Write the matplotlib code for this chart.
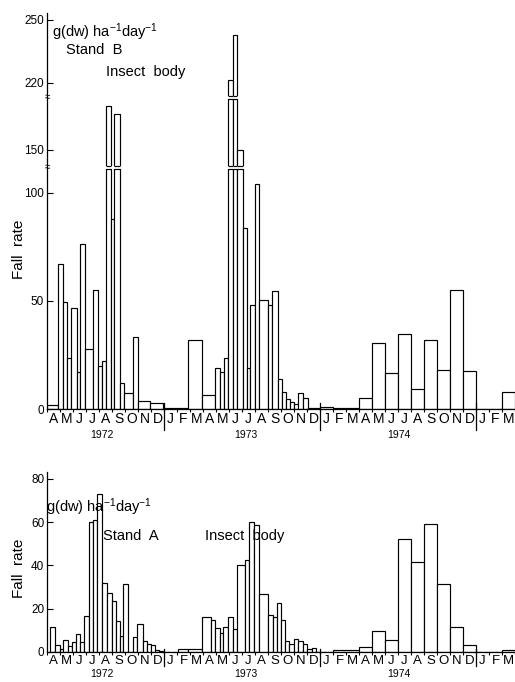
import numpy as np
import matplotlib
matplotlib.use('Agg')
import matplotlib.pyplot as plt

W, H = 515, 682

# months from 1 Apr 1972 (0) to end of Mar 1975 (36)
months = list('AMJJASONDJFM') * 3
years = ['1972', '1973', '1974']
year_pos = [4.2, 15.3, 27.1]
year_breaks = [9, 21, 33]

# Stand B: sampling period edges (months) and fall rate g(dw)/ha/day
b_edges = [0, 0.87, 1.23, 1.54, 1.88, 2.28, 2.54, 2.95, 3.54, 3.92, 4.23,
           4.54, 4.96, 5.19, 5.62, 5.95, 6.59, 6.98, 7.92, 8.95, 9.98,
           10.87, 11.95, 12.92, 13.31, 13.62, 13.95, 14.31, 14.62, 15.04,
           15.36, 15.62, 16.0, 16.33, 17.02, 17.28, 17.75, 18.05, 18.36,
           18.69, 19.0, 19.33, 19.67, 20.05, 21, 22, 23, 24, 25, 26, 27,
           28, 29, 30, 31, 32, 33, 35, 36]
b_rate = [1.7, 67, 49.6, 23.5, 46.8, 17, 76.2, 27.7, 55, 20, 22, 170.3, 88,
          166.5, 12.2, 7.2, 33.4, 3.9, 2.9, 0.3, 0.6, 31.7, 6.3, 18.8, 17.2,
          23.7, 221.5, 243, 150, 83.5, 19, 48, 104, 50.3, 48.3, 54.5, 13.7,
          7.7, 4.6, 3.4, 2.2, 7.2, 4.9, 0.3, 1.1, 0.5, 0.5, 5.2, 30.6, 16.5,
          34.5, 9.2, 31.7, 17.9, 55.1, 17.5, 0, 7.7]

# Stand A
a_edges = [0.23, 0.62, 1.0, 1.25, 1.64, 1.9, 2.21, 2.54, 2.85, 3.23, 3.56,
           3.82, 4.23, 4.64, 4.98, 5.31, 5.62, 5.87, 6.25, 6.59, 6.9, 7.36,
           7.67, 7.98, 8.31, 8.64, 8.95, 10.1, 10.87, 11.95, 12.62, 12.92,
           13.31, 13.56, 13.9, 14.28, 14.59, 15.23, 15.56, 15.92, 16.33,
           17.02, 17.36, 17.67, 17.98, 18.31, 18.65, 19.0, 19.33, 19.72,
           20.02, 20.36, 20.69, 22, 24, 25, 26, 27, 28, 29, 30, 31, 32, 33,
           35, 36]
a_rate = [11.5, 3.1, 1.5, 5.7, 2.6, 4.6, 8.5, 4.8, 16.5, 60, 61, 73, 32,
          27.3, 23.4, 14.2, 7.2, 31.4, 0, 6.9, 13.1, 4.9, 3.7, 3.1, 1.1, 0.6,
          0.2, 1.4, 1.2, 16.0, 14.6, 11.1, 8.8, 11.4, 16.0, 10.8, 40.3, 42.6,
          60, 58.8, 26.9, 17.2, 16.0, 22.5, 14.9, 4.9, 3.7, 6.0, 5.3, 3.9,
          1.2, 1.8, 0.2, 0.7, 2.3, 9.5, 5.7, 52.3, 41.4, 59.3, 31.4, 11.4,
          3.4, 0.2, 0.8]

# broken axis of stand B (value -> height)
brk_val = [-50, 0, 111, 142.6, 173.6, 213.8, 400]
brk_px = [-108.25, 0, 240, 243, 310, 313, 313 + 186.2 * 2.1]
gaps = [(111, 142.6), (173.6, 213.8)]


def fwd(v):
    return np.interp(v, brk_val, brk_px)


def inv(p):
    return np.interp(p, brk_px, brk_val)


plt.rcParams['font.family'] = ['Liberation Sans', 'DejaVu Sans']
plt.rcParams['mathtext.fontset'] = 'custom'
plt.rcParams['mathtext.rm'] = 'Liberation Sans'
plt.rcParams['mathtext.default'] = 'regular'


def draw(ax, edges, rate, top, ticks, sep, yoff, msize):
    edges = np.asarray(edges)
    ax.bar(edges[:-1], rate, width=np.diff(edges), align='edge',
           color='white', edgecolor='black', linewidth=0.85)
    ax.set_xlim(0, 36)
    ax.set_ylim(0, top)
    ax.set_yticks(ticks)
    ax.set_xticks(np.arange(36) + 0.5)
    ax.set_xticklabels(months)
    ax.set_xticks(np.arange(37), minor=True)
    ax.tick_params(axis='x', which='major', length=0, pad=2, labelsize=msize)
    ax.tick_params(axis='x', which='minor', length=2.5, width=0.8, direction='out')
    ax.tick_params(axis='y', direction='in', length=4, width=0.8, labelsize=8.5, pad=2)
    for s in ['top', 'right']:
        ax.spines[s].set_visible(False)
    for s in ['left', 'bottom']:
        ax.spines[s].set_linewidth(0.9)
    tr = ax.get_xaxis_transform()
    for m in year_breaks:
        ax.plot([m, m], [0.015, -sep], transform=tr, clip_on=False,
                color='black', lw=0.9)
    for y, x in zip(years, year_pos):
        ax.annotate(y, (x, 0), xycoords=tr, xytext=(0, yoff),
                    textcoords='offset points', ha='center', va='center',
                    fontsize=7.5)


fig = plt.figure(figsize=(W / 100, H / 100), dpi=100)

axb = fig.add_axes([47 / W, 273 / H, 468 / W, 396 / H])
axb.set_yscale('function', functions=(fwd, inv))
draw(axb, b_edges, b_rate, 253.3, [0, 50, 100, 150, 220, 250], 21 / 396, -18.5, 10)
be = np.asarray(b_edges)
for lo, hi in gaps:
    axb.axhspan(lo, hi, color='white', zorder=1.5, lw=0)
    for i, r in enumerate(b_rate):
        if r > lo:
            axb.hlines([lo, hi], be[i], be[i + 1], color='black', lw=0.85, zorder=1.6)
    axb.text(0, (lo + hi) / 2, '≈', transform=axb.get_yaxis_transform(),
             ha='center', va='center', fontsize=7, zorder=3)

axa = fig.add_axes([47 / W, 30 / H, 468 / W, 180 / H])
draw(axa, a_edges, a_rate, 83.2, [0, 20, 40, 60, 80], 14 / 180, -16, 9.5)

unit = 'g(dw) ha$^{-1}$day$^{-1}$'
fig.text(52 / W, 1 - 32 / H, unit, va='center', fontsize=10.5)
fig.text(66 / W, 1 - 50 / H, 'Stand  B', va='center', fontsize=10.5)
fig.text(106 / W, 1 - 72 / H, 'Insect  body', va='center', fontsize=10.5)
fig.text(19 / W, 1 - 249 / H, 'Fall  rate', rotation=90, ha='center',
         va='center', fontsize=11)

fig.text(46 / W, 1 - 507 / H, unit, va='center', fontsize=10.5)
fig.text(103 / W, 1 - 536 / H, 'Stand  A', va='center', fontsize=10.5)
fig.text(205 / W, 1 - 536 / H, 'Insect  body', va='center', fontsize=10.5)
fig.text(19 / W, 1 - 568 / H, 'Fall  rate', rotation=90, ha='center',
         va='center', fontsize=11)

fig.savefig('out.png', dpi=100)
